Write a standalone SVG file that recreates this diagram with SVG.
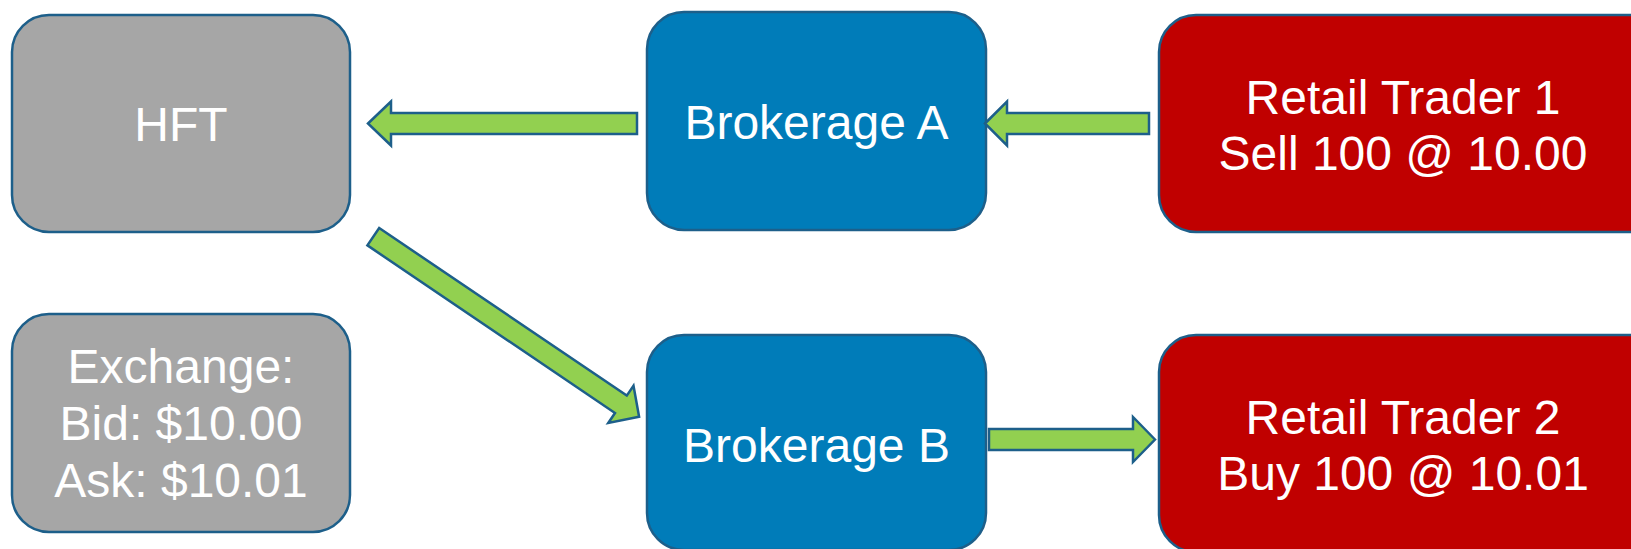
<svg xmlns="http://www.w3.org/2000/svg" width="1631" height="549" viewBox="0 0 1631 549">
<style>
.box{stroke:#1D5F8A;stroke-width:2.5}
.gray{fill:#A6A6A6}
.blue{fill:#007CB9}
.red{fill:#C00000}
.arrow{fill:#92D050;stroke:#1D5F8A;stroke-width:2.5;stroke-linejoin:miter}
text{font-family:"Liberation Sans",Arial,sans-serif;font-size:48px;fill:#FFFFFF;text-anchor:middle}
</style>
<rect width="1631" height="549" fill="#FFFFFF"/>
<g id="hft">
<rect class="box gray" x="12" y="15" width="338" height="217" rx="37"/>
<text x="181" y="141">HFT</text>
</g>
<g id="exchange">
<rect class="box gray" x="12" y="314" width="338" height="218" rx="37"/>
<text x="181" y="383">Exchange:</text>
<text x="181" y="440">Bid: $10.00</text>
<text x="181" y="497">Ask: $10.01</text>
</g>
<g id="brokerage-a">
<rect class="box blue" x="647" y="12" width="339" height="218" rx="37"/>
<text x="816.5" y="139">Brokerage A</text>
</g>
<g id="brokerage-b">
<rect class="box blue" x="647" y="335" width="339" height="215" rx="37"/>
<text x="816.5" y="462">Brokerage B</text>
</g>
<g id="retail-trader-1">
<rect class="box red" x="1159" y="15" width="520" height="217" rx="37"/>
<text x="1403" y="114">Retail Trader 1</text>
<text x="1403" y="170">Sell 100 @ 10.00</text>
</g>
<g id="retail-trader-2">
<rect class="box red" x="1159" y="335" width="520" height="217" rx="37"/>
<text x="1403" y="434">Retail Trader 2</text>
<text x="1403" y="490">Buy 100 @ 10.01</text>
</g>
<g id="connectors">
<polygon class="arrow" points="368,123.5 391,101.5 391,113 637,113 637,134 391,134 391,145.5"/>
<polygon class="arrow" points="985,123.5 1007,101.5 1007,113 1149,113 1149,134 1007,134 1007,145.5"/>
<polygon class="arrow" points="1155,439.5 1133,417 1133,429 989,429 989,450 1133,450 1133,462"/>
<polygon class="arrow" transform="translate(373.3,236.7) rotate(34.1)" points="0,-10.5 299,-10.5 299,-22.5 321,0 299,22.5 299,10.5 0,10.5"/>
</g>
</svg>
